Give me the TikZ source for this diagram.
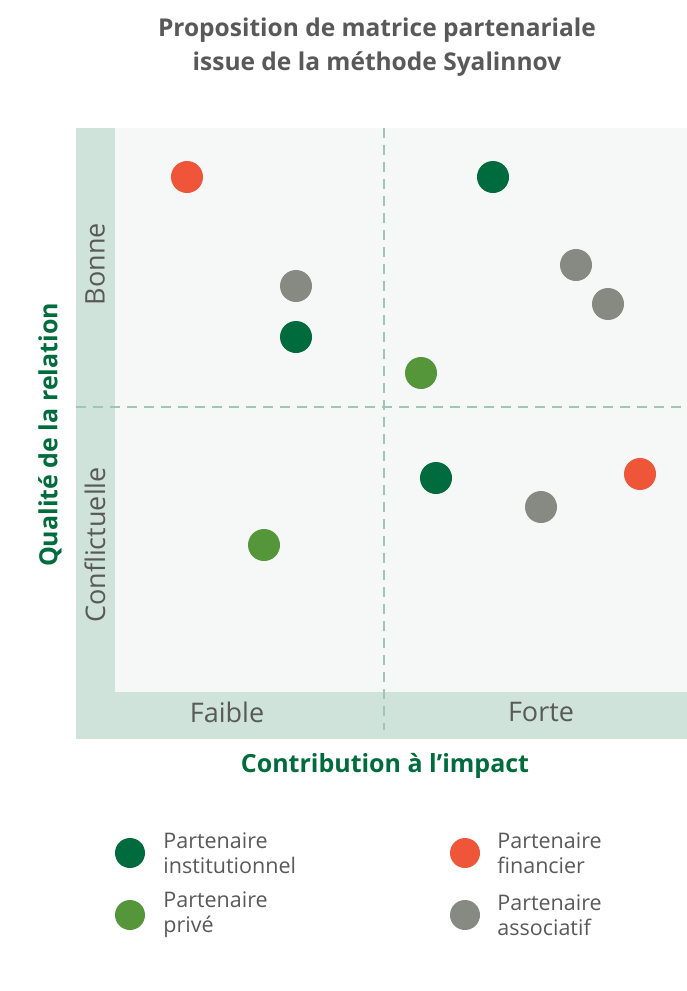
\documentclass[tikz,border=0pt]{standalone}
\usepackage{fontspec}
\setmainfont{Open Sans}
\usetikzlibrary{positioning}
\definecolor{institgreen}{HTML}{006B3C}
\definecolor{privegreen}{HTML}{55963A}
\definecolor{finred}{HTML}{EE5539}
\definecolor{assogray}{HTML}{878A82}
\definecolor{bandbg}{HTML}{CFE3DA}
\definecolor{innerbg}{HTML}{F6F8F7}
\definecolor{dashline}{HTML}{9DC7B3}
\definecolor{textgray}{HTML}{595959}
\tikzset{
  dot/.style={circle, inner sep=0pt, minimum size=32pt},
  instit/.style={dot, fill=institgreen},
  prive/.style={dot, fill=privegreen},
  financ/.style={dot, fill=finred},
  assoc/.style={dot, fill=assogray},
  legdot/.style={minimum size=30pt},
  legtext/.style={text=textgray, align=left, inner sep=0pt,
                  font=\fontsize{21.5}{25}\selectfont},
  quadlabel/.style={text=textgray, inner sep=0pt, font=\fontsize{27}{30}\selectfont},
  axistitle/.style={text=institgreen, inner sep=0pt, font=\bfseries\fontsize{25}{28}\selectfont},
  guide/.style={dashline, line width=2pt, dash pattern=on 10pt off 7pt},
}

\begin{document}
\begin{tikzpicture}[x=1pt, y=-1pt]
    \useasboundingbox[fill=white] (0,0) rectangle (687,991);

    % title
    \node[text=textgray, align=center, font=\bfseries\fontsize{24.5}{34}\selectfont] (title)
          at (377,47) {Proposition de matrice partenariale\\issue de la méthode Syalinnov};

    % matrix background
    \fill[bandbg] (76,128) rectangle (687,739);
    \fill[innerbg] (115,128) rectangle (687,692);
    \coordinate (vtop) at (384,128);
    \coordinate (vbot) at (384,730);
    \coordinate (hleft) at (76,407);
    \coordinate (hright) at (687,407);
    \draw[guide] (vtop) -- (vbot);
    \draw[guide] (hleft) -- (hright);

    % quadrant labels
    \node[quadlabel, rotate=90] (bonne) at (95,264) {Bonne};
    \node[quadlabel, rotate=90] (confl) at (95,545) {Conflictuelle};
    \node[quadlabel] (faible) at (227,712) {Faible};
    \node[quadlabel] (forte) at (541,712) {Forte};

    % axis titles
    \node[axistitle, rotate=90] (ytitle) at (50,435) {Qualité de la relation};
    \node[axistitle] (xtitle) at (385,766) {Contribution à l’impact};

    % partners
    \node[financ] (f1) at (187,177) {};
    \node[instit] (i1) at (493,177) {};
    \node[assoc] (a1) at (576,265) {};
    \node[assoc] (a2) at (608,304) {};
    \node[assoc] (a3) at (296,286) {};
    \node[instit] (i2) at (296,337) {};
    \node[prive] (p1) at (421,373) {};
    \node[instit] (i3) at (436,478) {};
    \node[financ] (f2) at (640,474) {};
    \node[assoc] (a4) at (541,507) {};
    \node[prive] (p2) at (264,545) {};

    % legend
    \node[instit, legdot] (leginstit) at (130,853) {};
    \node[legtext, right=18pt of leginstit] (leginstittxt) {Partenaire\\institutionnel};
    \node[prive, legdot] (legprive) at (130,915) {};
    \node[legtext, right=18pt of legprive] (legprivetxt) {Partenaire\\privé};
    \node[financ, legdot] (legfinanc) at (465,853) {};
    \node[legtext, right=17pt of legfinanc] (legfinanctxt) {Partenaire\\financier};
    \node[assoc, legdot] (legassoc) at (465,915) {};
    \node[legtext, right=17pt of legassoc] (legassoctxt) {Partenaire\\associatif};
\end{tikzpicture}
\end{document}
